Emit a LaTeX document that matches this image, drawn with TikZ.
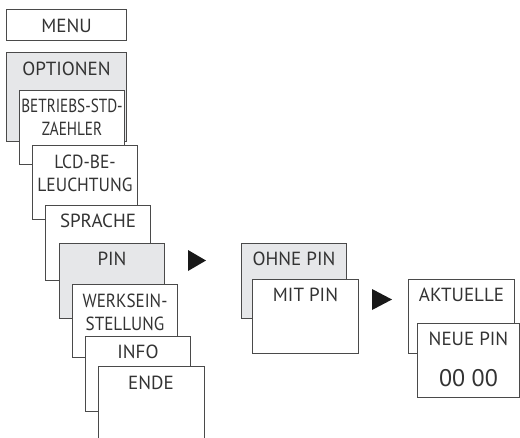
\documentclass[tikz,border=0pt]{standalone}
\usepackage{fontspec}
\setmainfont{PT Sans}
\definecolor{lc}{HTML}{4A4A4A}
\definecolor{tc}{HTML}{333333}
\definecolor{gf}{HTML}{E6E7E9}
\newcommand{\narrowtxt}[2]{\scalebox{#1}[1]{#2}}
\begin{document}
\begin{tikzpicture}[x=1pt,y=-1pt,
  box/.style={draw=lc,line width=1pt,fill=white,anchor=north west,inner sep=0pt,minimum width=105pt,minimum height=75pt},
  gbox/.style={box,fill=gf},
  txt/.style={text=tc,font=\fontsize{19}{22.5}\selectfont,inner sep=0pt,align=center,anchor=north},
  tri/.style={fill=black!90}]
\useasboundingbox (0,0) rectangle (520,437);
% MENU
\node[box,minimum width=120pt,minimum height=31pt] (menu) at (6,9) {};
\node[txt,anchor=center] (tmenu) at ([yshift=-0.5pt]menu.center) {MENU};
% OPTIONEN
\node[gbox,minimum width=120pt,minimum height=89pt] (opt) at (6,52) {};
\node[txt] (topt) at ([yshift=-10pt]opt.north) {OPTIONEN};
% BETRIEBS
\node[box,minimum height=74pt] (betr) at (19,90) {};
\node[txt] (tbetr) at ([yshift=-9pt]betr.north) {\narrowtxt{0.8}{BETRIEBS-STD-}\\\narrowtxt{0.8}{ZAEHLER}};
% LCD
\node[box,minimum height=74pt] (lcd) at (32,145) {};
\node[txt] (tlcd) at ([yshift=-10pt]lcd.north) {\narrowtxt{0.92}{LCD-BE-}\\\narrowtxt{0.92}{LEUCHTUNG}};
% SPRACHE
\node[box] (spr) at (45,205) {};
\node[txt] (tspr) at ([yshift=-9pt]spr.north) {SPRACHE};
% PIN
\node[gbox] (pin) at (59,243) {};
\node[txt] (tpin) at ([yshift=-9pt]pin.north) {PIN};
% WERKSEIN
\node[box,minimum height=73pt] (werk) at (72,284) {};
\node[txt] (twerk) at ([yshift=-10pt]werk.north) {\narrowtxt{0.9}{WERKSEIN-}\\\narrowtxt{0.9}{STELLUNG}};
% INFO
\node[box] (info) at (85,336) {};
\node[txt] (tinfo) at ([yshift=-9pt]info.north) {INFO};
% ENDE (open bottom)
\node[box,draw=none,minimum height=72pt] (ende) at (98,366) {};
\draw[lc,line width=1pt] (ende.south west) -- (ende.north west) -- (ende.north east) -- (ende.south east);
\node[txt] (tende) at ([yshift=-9.5pt]ende.north) {ENDE};
% arrow 1
\fill[tri] (188,250) -- (206,260.5) -- (188,271) -- cycle;
% OHNE PIN
\node[gbox] (ohne) at (241,243) {};
\node[txt] (tohne) at ([yshift=-9pt]ohne.north) {OHNE PIN};
% MIT PIN
\node[box,minimum width=106pt,minimum height=74pt] (mit) at (252,279) {};
\node[txt] (tmit) at ([yshift=-9pt]mit.north) {MIT PIN};
% arrow 2
\fill[tri] (372,289) -- (392,299.5) -- (372,310) -- cycle;
% AKTUELLE
\node[box,minimum width=106pt,minimum height=74pt] (akt) at (408,279) {};
\node[txt] (takt) at ([yshift=-9pt]akt.north) {AKTUELLE};
% NEUE PIN
\node[box,minimum width=102pt,minimum height=74pt] (neue) at (417,323) {};
\node[txt] (tneue) at ([yshift=-9pt]neue.north) {NEUE PIN};
\node[txt,font=\fontsize{24}{28}\selectfont] (tcode) at ([yshift=-46pt]neue.north) {00 00};
\end{tikzpicture}
\end{document}
